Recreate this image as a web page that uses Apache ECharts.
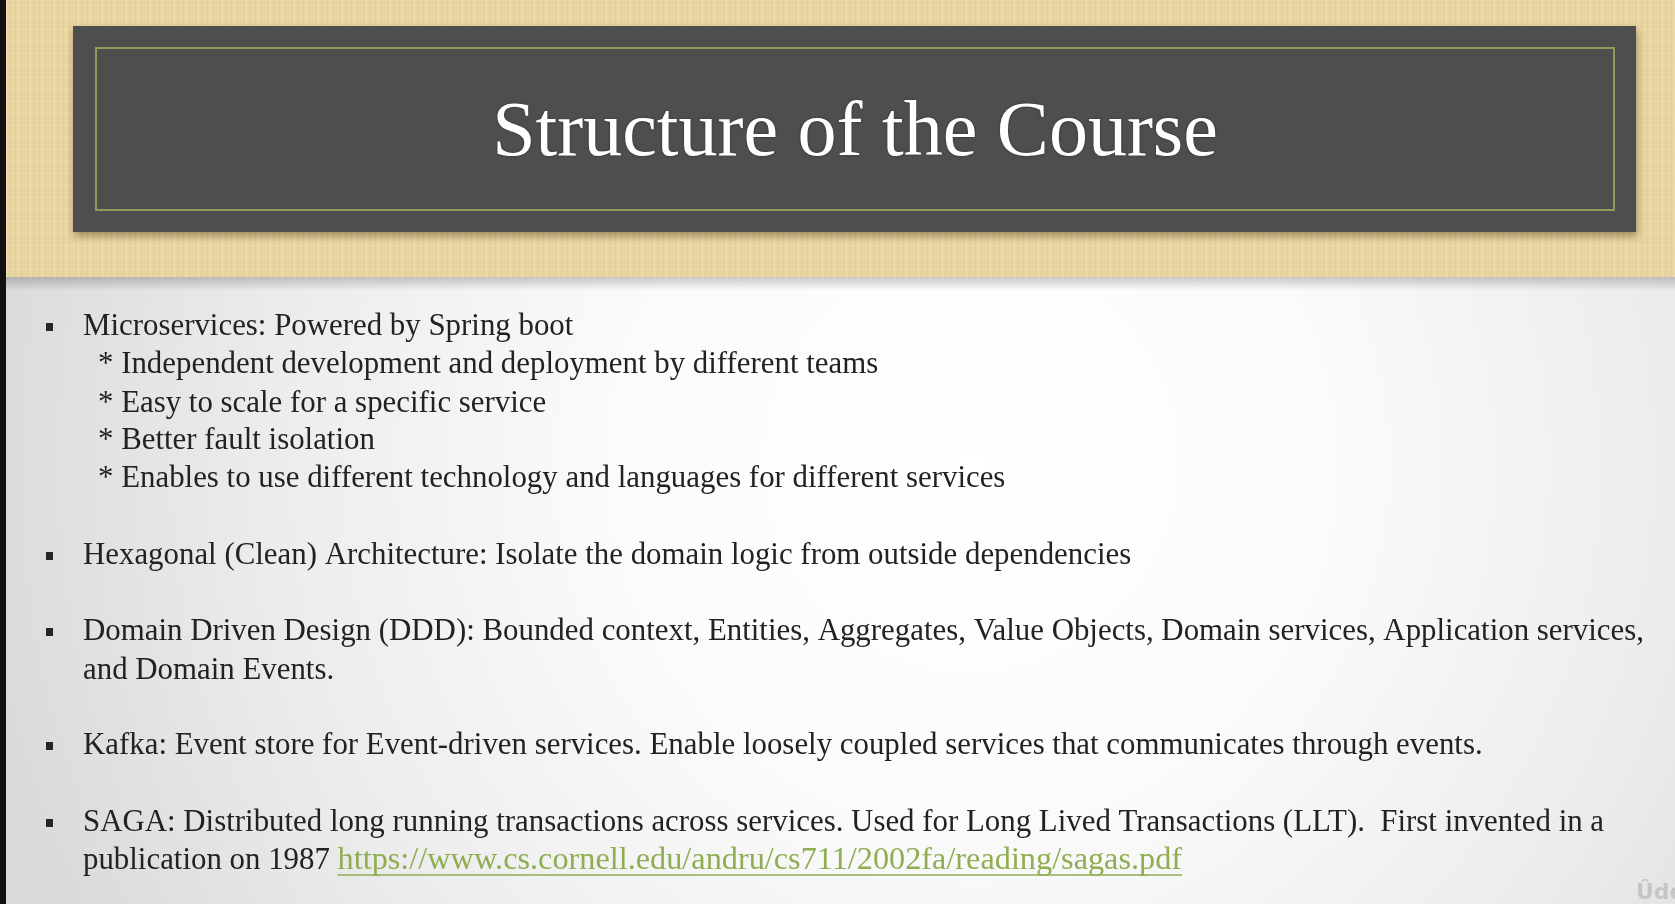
<!DOCTYPE html>
<html>
<head>
<meta charset="utf-8">
<title>Structure of the Course</title>
<script src="https://cdn.jsdelivr.net/npm/echarts@6/dist/echarts.min.js"></script>
<style>
  html, body { margin: 0; padding: 0; background: #fff; }
  #slide { width: 1675px; height: 904px; }
</style>
</head>
<body>
<div id="slide"></div>
<script>
// slide text
var titleText = 'Structure of the Course';
var bulletItems = [
    'Microservices: Powered by Spring boot',
    'Hexagonal (Clean) Architecture: Isolate the domain logic from outside dependencies',
    'Domain Driven Design (DDD): Bounded context, Entities, Aggregates, Value Objects, Domain services, Application services,',
    'Kafka: Event store for Event-driven services. Enable loosely coupled services that communicates through events.',
    'SAGA: Distributed long running transactions across services. Used for Long Lived Transactions (LLT).  First invented in a'
];
var continuationLines = ['', '', 'and Domain Events.', '', 'publication on 1987 '];
var microPoints = [
    '* Independent development and deployment by different teams',
    '* Easy to scale for a specific service',
    '* Better fault isolation',
    '* Enables to use different technology and languages for different services'
];
var linkText = 'https://www.cs.cornell.edu/andru/cs711/2002fa/reading/sagas.pdf';

// layout (centre y of each text row)
var bulletY = [327, 556, 632, 746, 823];
var contY = [0, 0, 671, 0, 861];
var microY = [365, 404, 441, 479];

var serif = '"Liberation Serif", "DejaVu Serif", serif';
var bodySize = 30.5;
var textColor = '#222222';
var bodyStretch = 1.012;
var linkStretch = 1.058;

function measure(str, size) {
    var ctx = document.createElement('canvas').getContext('2d');
    ctx.font = size + 'px ' + serif;
    return ctx.measureText(str).width;
}

// 麻布纹理
function linenPattern() {
    var c = document.createElement('canvas');
    c.width = 12; c.height = 12;
    var g = c.getContext('2d');
    g.fillStyle = '#e9d5a2';
    g.fillRect(0, 0, 12, 12);
    g.fillStyle = 'rgba(190,160,100,0.16)';
    g.fillRect(3, 0, 1, 12);
    g.fillRect(9, 0, 1, 12);
    g.fillStyle = 'rgba(255,245,215,0.22)';
    g.fillRect(0, 5, 12, 1);
    g.fillRect(6, 0, 1, 12);
    return c;
}

function bodyText(txt, x, y) {
    return {
        type: 'text', z: 5,
        x: x, y: y,
        scaleX: bodyStretch,
        style: {
            text: txt, font: bodySize + 'px ' + serif,
            fill: textColor, verticalAlign: 'middle'
        }
    };
}

function buildSlide(divId) {
    var myChart = echarts.init(document.getElementById(divId));
    var elements = [];

    // lower area background
    elements.push({
        type: 'rect', z: 0,
        shape: { x: 0, y: 276, width: 1675, height: 628 },
        style: {
            fill: {
                type: 'radial', x: 0.58, y: 0.3, r: 1.6,
                colorStops: [
                    { offset: 0, color: '#ffffff' },
                    { offset: 0.35, color: '#fbfbfb' },
                    { offset: 0.7, color: '#ececec' },
                    { offset: 1, color: '#dadada' }
                ]
            }
        }
    });
    // band
    elements.push({
        type: 'rect', z: 1,
        shape: { x: 0, y: 0, width: 1675, height: 277 },
        style: { fill: { image: linenPattern(), repeat: 'repeat' } }
    });
    // band shadow
    elements.push({
        type: 'rect', z: 1,
        shape: { x: 0, y: 277, width: 1675, height: 14 },
        style: {
            fill: {
                type: 'linear', x: 0, y: 0, x2: 0, y2: 1,
                colorStops: [
                    { offset: 0, color: 'rgba(0,0,0,0.2)' },
                    { offset: 1, color: 'rgba(0,0,0,0)' }
                ]
            }
        }
    });
    // title box
    elements.push({
        type: 'rect', z: 2,
        shape: { x: 73, y: 26, width: 1563, height: 206 },
        style: {
            fill: '#4e4e4e',
            shadowBlur: 8, shadowOffsetX: 1, shadowOffsetY: 4,
            shadowColor: 'rgba(60,40,0,0.45)'
        }
    });
    elements.push({
        type: 'rect', z: 3,
        shape: { x: 96, y: 48, width: 1518, height: 162 },
        style: { fill: 'none', stroke: '#8d9c5a', lineWidth: 2 }
    });
    elements.push({
        type: 'text', z: 4,
        x: 855, y: 135,
        style: {
            text: titleText,
            font: 'normal 78px ' + serif,
            fill: '#ffffff',
            align: 'center',
            verticalAlign: 'middle',
            textShadowColor: 'rgba(0,0,0,0.35)',
            textShadowBlur: 3
        }
    });

    // bullets
    bulletItems.forEach(function (txt, i) {
        elements.push({
            type: 'rect', z: 5,
            shape: { x: 46, y: bulletY[i] - 4, width: 7, height: 8 },
            style: { fill: '#262626' }
        });
        elements.push(bodyText(txt, 83, bulletY[i]));
        if (continuationLines[i]) {
            elements.push(bodyText(continuationLines[i], 83, contY[i]));
        }
    });

    microPoints.forEach(function (txt, i) {
        elements.push(bodyText(txt, 98, microY[i]));
    });

    // link on last line
    var linkX = 83 + measure(continuationLines[4], bodySize) * bodyStretch;
    var linkW = measure(linkText, bodySize) * linkStretch;
    elements.push({
        type: 'text', z: 5,
        x: linkX, y: contY[4],
        scaleX: linkStretch,
        style: {
            text: linkText, font: bodySize + 'px ' + serif,
            fill: '#8fae52', verticalAlign: 'middle'
        }
    });
    elements.push({
        type: 'line', z: 5,
        shape: { x1: linkX, y1: contY[4] + 14, x2: linkX + linkW, y2: contY[4] + 14 },
        style: { stroke: '#8fae52', lineWidth: 1.5 }
    });

    // watermark
    elements.push({
        type: 'text', z: 5,
        x: 1636, y: 893,
        style: {
            text: 'Ûdemy', font: 'bold 22px "DejaVu Sans", sans-serif',
            fill: 'rgba(175,175,175,0.6)', verticalAlign: 'middle'
        }
    });

    // left dark strip
    elements.push({
        type: 'rect', z: 6,
        shape: { x: 0, y: 0, width: 6, height: 904 },
        style: { fill: '#111111' }
    });

    var option = {
        animation: false,
        graphic: { elements: elements }
    };
    myChart.clear();
    myChart.setOption(option);
    return myChart;
}

var slide = buildSlide('slide');
</script>
</body>
</html>
